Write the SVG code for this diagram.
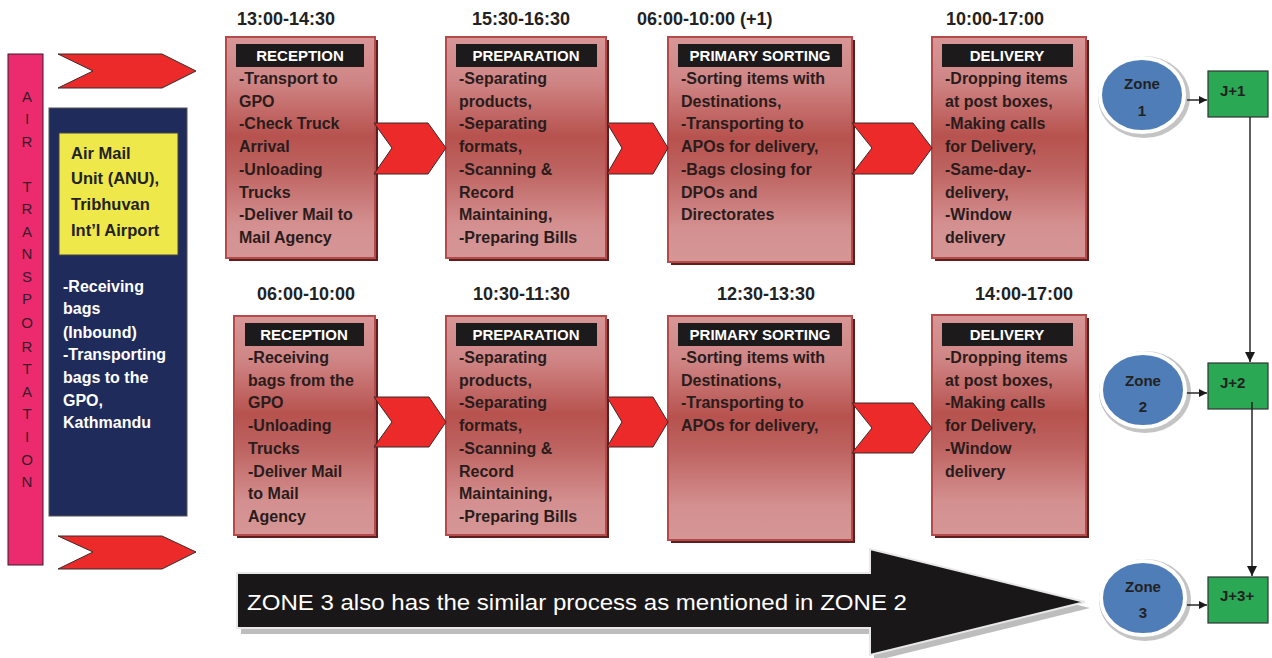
<svg xmlns="http://www.w3.org/2000/svg" width="1272" height="658" viewBox="0 0 1272 658">
<defs>
<linearGradient id="boxGrad" x1="0" y1="0" x2="0" y2="1">
<stop offset="0" stop-color="#d89696"/>
<stop offset="0.2" stop-color="#cf8585"/>
<stop offset="0.45" stop-color="#b7524e"/>
<stop offset="0.6" stop-color="#bd6360"/>
<stop offset="0.85" stop-color="#d49090"/>
<stop offset="1" stop-color="#d69696"/>
</linearGradient>
<marker id="ah" viewBox="0 0 10 10" refX="10" refY="5" markerWidth="8" markerHeight="8" markerUnits="userSpaceOnUse" orient="auto">
<path d="M0,0 L10,5 L0,10 z" fill="#1a1a1a"/>
</marker>
<marker id="ahv" viewBox="0 0 10 10" refX="10" refY="5" markerWidth="10" markerHeight="10" markerUnits="userSpaceOnUse" orient="auto">
<path d="M0,0 L10,5 L0,10 z" fill="#1a1a1a"/>
</marker>
</defs>
<style>
.time{font-family:"Liberation Sans",Arial,sans-serif;font-weight:bold;font-size:18px;fill:#222}
.hdr{font-family:"Liberation Sans",Arial,sans-serif;font-weight:bold;font-size:15px;fill:#fff;text-anchor:middle}
.body{font-family:"Liberation Sans",Arial,sans-serif;font-weight:bold;font-size:16px;fill:#2a1c1c}
.box{fill:url(#boxGrad);stroke:#b44a4a;stroke-width:2}
.shadow{fill:#5e1e1e}
.hbar{fill:#1c1a1b}
.chev{fill:#ec2a2a;stroke:#3a2a2a;stroke-width:1}
.zone{fill:#4f7db8;stroke:#fff;stroke-width:4}
.zshadow{fill:#c4c4c4}
.ztxt{font-family:"Liberation Sans",Arial,sans-serif;font-weight:bold;font-size:15px;fill:#222;text-anchor:middle}
.jbox{fill:#2aa853;stroke:#333;stroke-width:1.2}
.jtxt{font-family:"Liberation Sans",Arial,sans-serif;font-weight:bold;font-size:15px;fill:#222}
.conn{stroke:#1a1a1a;stroke-width:1.4;fill:none}
.vlet{font-family:"Liberation Sans",Arial,sans-serif;font-size:15px;fill:#3a1a2a;text-anchor:middle}
.wtxt{font-family:"Liberation Sans",Arial,sans-serif;font-weight:bold;font-size:16px;fill:#fff}
.ytxt{font-family:"Liberation Sans",Arial,sans-serif;font-weight:bold;font-size:16.5px;fill:#222}
</style>
<rect width="1272" height="658" fill="#fff"/>

<g id="air-transportation">
<rect x="8" y="54" width="35" height="511" fill="#ec2b6e" stroke="#3a1a2a" stroke-width="1"/>
<text class="vlet" x="27" y="102">A</text>
<text class="vlet" x="27" y="124">I</text>
<text class="vlet" x="27" y="147">R</text>
<text class="vlet" x="27" y="192">T</text>
<text class="vlet" x="27" y="214">R</text>
<text class="vlet" x="27" y="237">A</text>
<text class="vlet" x="27" y="259">N</text>
<text class="vlet" x="27" y="282">S</text>
<text class="vlet" x="27" y="304">P</text>
<text class="vlet" x="27" y="328">O</text>
<text class="vlet" x="27" y="352">R</text>
<text class="vlet" x="27" y="374">T</text>
<text class="vlet" x="27" y="397">A</text>
<text class="vlet" x="27" y="419">T</text>
<text class="vlet" x="27" y="442">I</text>
<text class="vlet" x="27" y="465">O</text>
<text class="vlet" x="27" y="487">N</text>
</g>

<g id="anu">
<rect x="49" y="108" width="138" height="408" fill="#1f2b5b" stroke="#555" stroke-width="1"/>
<rect x="59" y="133" width="119" height="122" fill="#efe84a" stroke="#444" stroke-width="1"/>
<text class="ytxt" x="71" y="159">Air Mail</text>
<text class="ytxt" x="71" y="184">Unit (ANU),</text>
<text class="ytxt" x="71" y="210">Tribhuvan</text>
<text class="ytxt" x="71" y="236">Int’l Airport</text>
<text class="wtxt" x="63" y="292">-Receiving</text>
<text class="wtxt" x="63" y="314">bags</text>
<text class="wtxt" x="63" y="338">(Inbound)</text>
<text class="wtxt" x="63" y="360">-Transporting</text>
<text class="wtxt" x="63" y="383">bags to the</text>
<text class="wtxt" x="63" y="406">GPO,</text>
<text class="wtxt" x="63" y="428">Kathmandu</text>
</g>

<g id="times">
<text class="time" x="237" y="25">13:00-14:30</text>
<text class="time" x="472" y="25">15:30-16:30</text>
<text class="time" x="637" y="25">06:00-10:00 (+1)</text>
<text class="time" x="946" y="25">10:00-17:00</text>
<text class="time" x="257" y="300">06:00-10:00</text>
<text class="time" x="473" y="300">10:30-11:30</text>
<text class="time" x="717" y="300">12:30-13:30</text>
<text class="time" x="975" y="300">14:00-17:00</text>
</g>

<g id="r1-reception">
<rect class="shadow" x="229" y="40" width="149" height="221"/>
<rect class="box" x="226" y="37" width="149" height="221"/>
<rect class="hbar" x="236" y="44" width="128" height="23"/>
<text class="hdr" x="300" y="61">RECEPTION</text>
<text class="body" x="239" y="84">-Transport to<tspan x="239" dy="22.7">GPO</tspan><tspan x="239" dy="22.7">-Check Truck</tspan><tspan x="239" dy="22.7">Arrival</tspan><tspan x="239" dy="22.7">-Unloading</tspan><tspan x="239" dy="22.7">Trucks</tspan><tspan x="239" dy="22.7">-Deliver Mail to</tspan><tspan x="239" dy="22.7">Mail Agency</tspan></text>
</g>
<g id="r1-preparation">
<rect class="shadow" x="449" y="40" width="160" height="221"/>
<rect class="box" x="446" y="37" width="160" height="221"/>
<rect class="hbar" x="456" y="44" width="141" height="23"/>
<text class="hdr" x="526" y="61">PREPARATION</text>
<text class="body" x="459" y="84">-Separating<tspan x="459" dy="22.7">products,</tspan><tspan x="459" dy="22.7">-Separating</tspan><tspan x="459" dy="22.7">formats,</tspan><tspan x="459" dy="22.7">-Scanning &amp;</tspan><tspan x="459" dy="22.7">Record</tspan><tspan x="459" dy="22.7">Maintaining,</tspan><tspan x="459" dy="22.7">-Preparing Bills</tspan></text>
</g>
<g id="r1-primary">
<rect class="shadow" x="671" y="40" width="184" height="225"/>
<rect class="box" x="668" y="37" width="184" height="225"/>
<rect class="hbar" x="678" y="44" width="164" height="23"/>
<text class="hdr" x="760" y="61">PRIMARY SORTING</text>
<text class="body" x="681" y="84">-Sorting items with<tspan x="681" dy="22.7">Destinations,</tspan><tspan x="681" dy="22.7">-Transporting to</tspan><tspan x="681" dy="22.7">APOs for delivery,</tspan><tspan x="681" dy="22.7">-Bags closing for</tspan><tspan x="681" dy="22.7">DPOs and</tspan><tspan x="681" dy="22.7">Directorates</tspan></text>
</g>
<g id="r1-delivery">
<rect class="shadow" x="935" y="40" width="154" height="221"/>
<rect class="box" x="932" y="37" width="154" height="221"/>
<rect class="hbar" x="942" y="44" width="131" height="23"/>
<text class="hdr" x="1007" y="61">DELIVERY</text>
<text class="body" x="945" y="84">-Dropping items<tspan x="945" dy="22.7">at post boxes,</tspan><tspan x="945" dy="22.7">-Making calls</tspan><tspan x="945" dy="22.7">for Delivery,</tspan><tspan x="945" dy="22.7">-Same-day-</tspan><tspan x="945" dy="22.7">delivery,</tspan><tspan x="945" dy="22.7">-Window</tspan><tspan x="945" dy="22.7">delivery</tspan></text>
</g>

<g id="r2-reception">
<rect class="shadow" x="237" y="319" width="141" height="219"/>
<rect class="box" x="234" y="316" width="141" height="219"/>
<rect class="hbar" x="245" y="323" width="119" height="23"/>
<text class="hdr" x="304" y="340">RECEPTION</text>
<text class="body" x="248" y="363">-Receiving<tspan x="248" dy="22.7">bags from the</tspan><tspan x="248" dy="22.7">GPO</tspan><tspan x="248" dy="22.7">-Unloading</tspan><tspan x="248" dy="22.7">Trucks</tspan><tspan x="248" dy="22.7">-Deliver Mail</tspan><tspan x="248" dy="22.7">to Mail</tspan><tspan x="248" dy="22.7">Agency</tspan></text>
</g>
<g id="r2-preparation">
<rect class="shadow" x="449" y="319" width="160" height="219"/>
<rect class="box" x="446" y="316" width="160" height="219"/>
<rect class="hbar" x="456" y="323" width="141" height="23"/>
<text class="hdr" x="526" y="340">PREPARATION</text>
<text class="body" x="459" y="363">-Separating<tspan x="459" dy="22.7">products,</tspan><tspan x="459" dy="22.7">-Separating</tspan><tspan x="459" dy="22.7">formats,</tspan><tspan x="459" dy="22.7">-Scanning &amp;</tspan><tspan x="459" dy="22.7">Record</tspan><tspan x="459" dy="22.7">Maintaining,</tspan><tspan x="459" dy="22.7">-Preparing Bills</tspan></text>
</g>
<g id="r2-primary">
<rect class="shadow" x="671" y="319" width="184" height="224"/>
<rect class="box" x="668" y="316" width="184" height="224"/>
<rect class="hbar" x="678" y="323" width="164" height="23"/>
<text class="hdr" x="760" y="340">PRIMARY SORTING</text>
<text class="body" x="681" y="363">-Sorting items with<tspan x="681" dy="22.7">Destinations,</tspan><tspan x="681" dy="22.7">-Transporting to</tspan><tspan x="681" dy="22.7">APOs for delivery,</tspan></text>
</g>
<g id="r2-delivery">
<rect class="shadow" x="935" y="318" width="154" height="220"/>
<rect class="box" x="932" y="315" width="154" height="220"/>
<rect class="hbar" x="942" y="323" width="131" height="23"/>
<text class="hdr" x="1007" y="340">DELIVERY</text>
<text class="body" x="945" y="363">-Dropping items<tspan x="945" dy="22.7">at post boxes,</tspan><tspan x="945" dy="22.7">-Making calls</tspan><tspan x="945" dy="22.7">for Delivery,</tspan><tspan x="945" dy="22.7">-Window</tspan><tspan x="945" dy="22.7">delivery</tspan></text>
</g>

<g id="zone3-note">
<polygon points="241,579 874,579 874,555 1090,608 874,661 874,634 241,634" fill="#bdbdbd"/>
<polygon points="237,573 870,573 870,549 1085,602 870,655 870,628 237,628" fill="#1a1718" stroke="#e8e8e8" stroke-width="2"/>
<text x="247" y="610" font-family="Liberation Sans, Arial, sans-serif" font-size="22" fill="#fff" textLength="660" lengthAdjust="spacingAndGlyphs">ZONE 3 also has the similar process as mentioned in ZONE 2</text>
</g>

<g id="zone1">
<ellipse class="zshadow" cx="1144" cy="97" rx="46" ry="41"/>
<ellipse class="zone" cx="1142" cy="95" rx="42" ry="37"/>
<text class="ztxt" x="1142" y="89">Zone</text>
<text class="ztxt" x="1142" y="116">1</text>
</g>
<g id="zone2">
<ellipse class="zshadow" cx="1145" cy="392" rx="46" ry="41"/>
<ellipse class="zone" cx="1143" cy="390" rx="42" ry="37"/>
<text class="ztxt" x="1143" y="386">Zone</text>
<text class="ztxt" x="1143" y="412">2</text>
</g>
<g id="zone3">
<ellipse class="zshadow" cx="1145" cy="600" rx="46" ry="41"/>
<ellipse class="zone" cx="1143" cy="598" rx="42" ry="37"/>
<text class="ztxt" x="1143" y="592">Zone</text>
<text class="ztxt" x="1143" y="618">3</text>
</g>
<g id="j1">
<rect class="jbox" x="1208" y="71" width="60" height="46"/>
<text class="jtxt" x="1220" y="96">J+1</text>
</g>
<g id="j2">
<rect class="jbox" x="1208" y="363" width="60" height="46"/>
<text class="jtxt" x="1220" y="388">J+2</text>
</g>
<g id="j3">
<rect class="jbox" x="1208" y="577" width="60" height="46"/>
<text class="jtxt" x="1220" y="601">J+3+</text>
</g>

<g id="connectors">
<polygon class="chev" points="58,54 162,54 196,71 162,88 58,88 93,71"/>
<polygon class="chev" points="58,536 162,536 196,552 162,569 58,569 93,552"/>
<polygon class="chev" points="374,123 428,123 446,148 428,174 374,174 392,148"/>
<polygon class="chev" points="607,123 653,123 668,148 653,174 607,174 622,148"/>
<polygon class="chev" points="852,123 913,123 932,148 913,174 852,174 872,148"/>
<polygon class="chev" points="374,397 429,397 446,422 429,447 374,447 392,422"/>
<polygon class="chev" points="607,397 653,397 668,422 653,447 607,447 622,422"/>
<polygon class="chev" points="852,403 913,403 932,428 913,453 852,453 872,428"/>
<line class="conn" x1="1187" y1="100" x2="1207" y2="100" marker-end="url(#ah)"/>
<line class="conn" x1="1187" y1="393" x2="1207" y2="393" marker-end="url(#ah)"/>
<line class="conn" x1="1187" y1="605" x2="1207" y2="605" marker-end="url(#ah)"/>
<line class="conn" x1="1250" y1="117" x2="1250" y2="362" marker-end="url(#ahv)"/>
<line class="conn" x1="1252" y1="402" x2="1252" y2="576" marker-end="url(#ahv)"/>
</g>
</svg>
